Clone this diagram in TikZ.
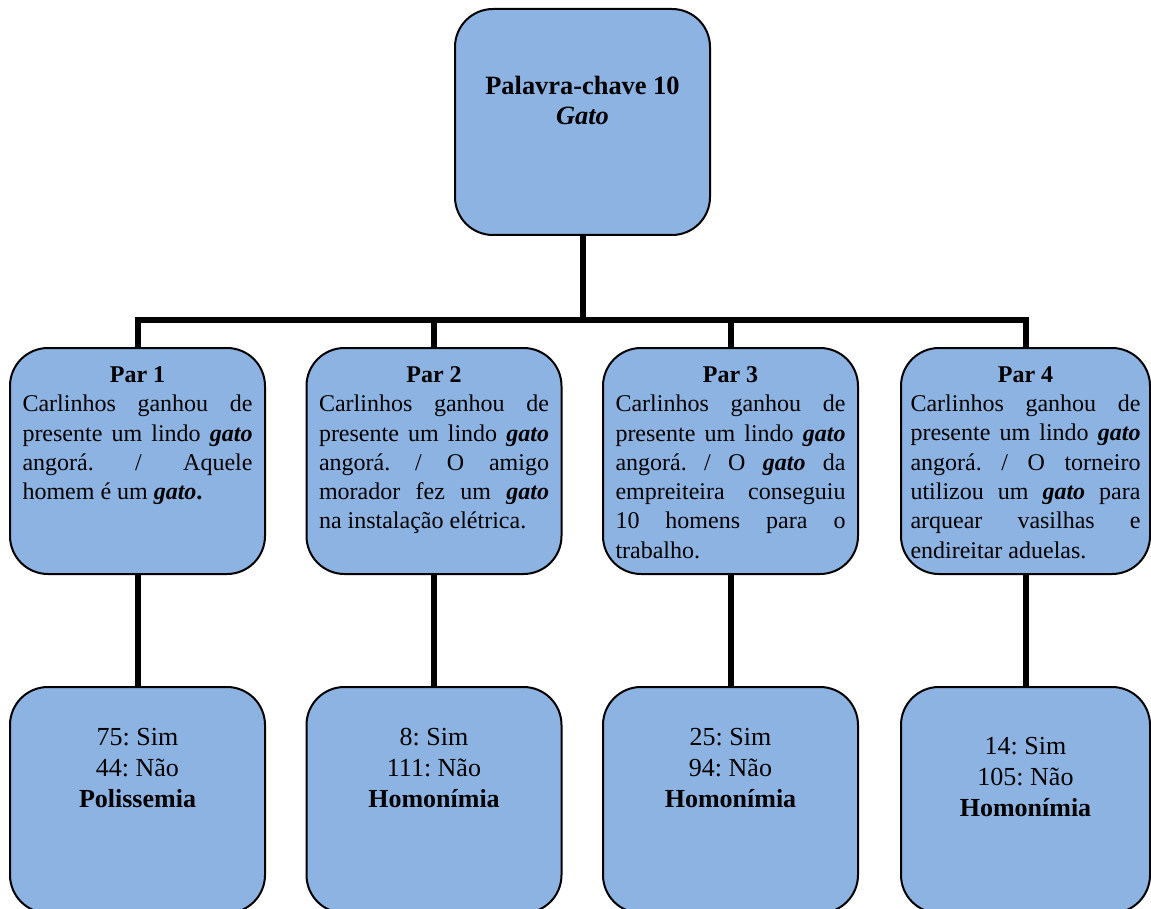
\documentclass[tikz,border=0pt]{standalone}
\usepackage{fontspec}
\setmainfont{Liberation Serif}
\frenchspacing
\definecolor{boxblue}{RGB}{141,179,226}
\tikzset{
  box/.style={draw=black, line width=1pt, fill=boxblue, rounded corners=19pt,
    minimum width=127.5pt, minimum height=113pt, inner sep=0pt},
  narrowbox/.style={box, minimum width=124.5pt},
  conn/.style={line width=3pt, line join=miter},
}
% keyword word in bold italic
\newcommand{\kw}[1]{\textbf{\textit{#1}}}
% content of a "Par" box: centred bold title, then justified text
\newcommand{\pairtext}[2]{\parbox[c][113pt][t]{115pt}{\fontsize{12}{14.65}\selectfont
  \vspace*{9.3pt}{\centering\textbf{#1}\par}#2\par}}
% content of a result box
\newcommand{\resulttext}[4]{\parbox[c][113pt][t]{115pt}{\centering\fontsize{13}{15.5}\selectfont
  \vspace*{#4}#1\\#2\\\textbf{#3}\par}}
\begin{document}
\begin{tikzpicture}[x=0.5pt,y=-0.5pt]
\useasboundingbox (0,0) rectangle (1151,909);
\clip (0,0) rectangle (1151,909);

% keyword box
\node[box] (key) at (582.5,122) {\parbox[c][113pt][t]{115pt}{\centering\fontsize{13.2}{15}\selectfont
  \vspace*{33.5pt}\textbf{Palavra-chave 10}\\\kw{Gato}\par}};

% sentence pairs
\node[box] (par1) at (137.5,461) {\pairtext{Par 1}{Carlinhos ganhou de\linebreak
  presente um lindo \kw{gato}\linebreak angorá. / Aquele\linebreak
  homem é um \textbf{\textit{gato}.}}};
\node[box] (par2) at (434,461) {\pairtext{Par 2}{Carlinhos ganhou de\linebreak
  presente um lindo \kw{gato}\linebreak angorá. / O amigo\linebreak
  morador fez um \kw{gato}\linebreak na instalação elétrica.}};
\node[box] (par3) at (730.5,461) {\pairtext{Par 3}{Carlinhos ganhou de\linebreak
  presente um lindo \kw{gato}\linebreak angorá. / O \kw{gato} da\linebreak
  empreiteira conseguiu\linebreak 10 homens para o\linebreak trabalho.}};
\node[narrowbox] (par4) at (1025.5,461) {\pairtext{Par 4}{Carlinhos ganhou de\linebreak
  presente um lindo \kw{gato}\linebreak angorá. / O torneiro\linebreak
  utilizou um \kw{gato} para\linebreak arquear vasilhas e\linebreak endireitar aduelas.}};

% answers
\node[box] (res1) at (137.5,800) {\resulttext{75: Sim}{44: Não}{Polissemia}{20.5pt}};
\node[box] (res2) at (434,800) {\resulttext{8: Sim}{111: Não}{Homonímia}{20.5pt}};
\node[box] (res3) at (730.5,800) {\resulttext{25: Sim}{94: Não}{Homonímia}{20.5pt}};
\node[narrowbox] (res4) at (1025.5,800) {\resulttext{14: Sim}{105: Não}{Homonímia}{25pt}};

% tree connectors
\coordinate (bus) at (0,320);
\draw[conn] (key.south) -- (key.south |- bus);
\draw[conn] (par1.north) -- (par1.north |- bus) -- (par4.north |- bus) -- (par4.north);
\draw[conn] (par2.north) -- (par2.north |- bus);
\draw[conn] (par3.north) -- (par3.north |- bus);
\draw[conn] (par1.south) -- (res1.north);
\draw[conn] (par2.south) -- (res2.north);
\draw[conn] (par3.south) -- (res3.north);
\draw[conn] (par4.south) -- (res4.north);
\end{tikzpicture}
\end{document}
